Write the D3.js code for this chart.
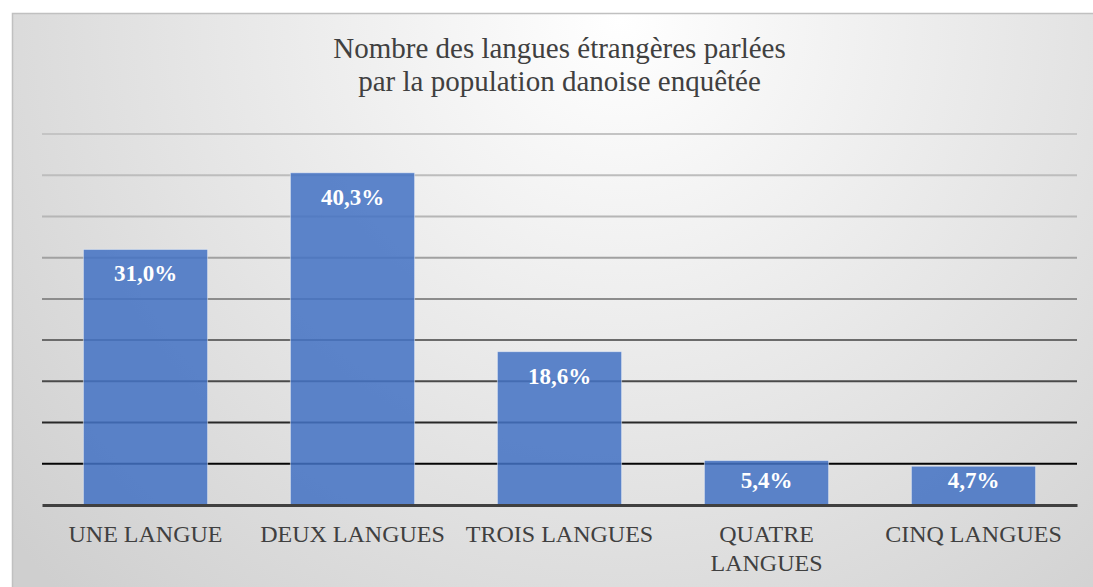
<!DOCTYPE html>
<html>
<head>
<meta charset="utf-8">
<script src="https://cdn.jsdelivr.net/npm/d3@7"></script>
<style>
  html, body { margin: 0; padding: 0; background: #ffffff; }
  svg { display: block; }
</style>
</head>
<body>
<script>
// ---- data ----
const titleLines = ["Nombre des langues étrangères parlées", "par la population danoise enquêtée"];
const categories = [["UNE LANGUE"], ["DEUX LANGUES"], ["TROIS LANGUES"], ["QUATRE", "LANGUES"], ["CINQ LANGUES"]];
const values = [31.0, 40.3, 18.6, 5.4, 4.7];
const valueLabels = ["31,0%", "40,3%", "18,6%", "5,4%", "4,7%"];
const yTicks = [0, 5, 10, 15, 20, 25, 30, 35, 40, 45];

// ---- layout ----
const W = 1093, H = 587;
const plot = { left: 42, right: 1077, top: 134, bottom: 505 };
const serif = "'Liberation Serif', 'Times New Roman', serif";

const svg = d3.select("body").append("svg").attr("width", W).attr("height", H);
const defs = svg.append("defs");
const bg = defs.append("radialGradient").attr("id", "bg")
  .attr("gradientUnits", "userSpaceOnUse")
  .attr("cx", 620).attr("cy", 20).attr("r", 800);
bg.append("stop").attr("offset", 0).attr("stop-color", "#ffffff");
bg.append("stop").attr("offset", 1).attr("stop-color", "#cfcfcf");

svg.append("rect").attr("x", 12.5).attr("y", 13.5).attr("width", W).attr("height", H)
  .attr("fill", "url(#bg)").attr("stroke", "#c0c0c0").attr("stroke-width", 1.5);

const x = d3.scaleBand().domain(d3.range(categories.length))
  .range([plot.left, plot.right]).paddingInner(0.4).paddingOuter(0.2);
const y = d3.scaleLinear().domain([0, 45]).range([plot.bottom, plot.top]);

// gridline colour: light grey at top, black near the bottom
const gridColor = d3.scaleLinear()
  .domain([45, 35, 25, 15, 5])
  .range(["#c4c4c4", "#b6b6b6", "#8c8c8c", "#4a4a4a", "#050505"])
  .clamp(true);

const grid = svg.append("g");
grid.selectAll("line").data(yTicks.filter(t => t > 0)).join("line")
  .attr("x1", plot.left).attr("x2", plot.right)
  .attr("y1", d => y(d)).attr("y2", d => y(d))
  .attr("stroke", d => gridColor(d)).attr("stroke-width", 2);

// bars
svg.append("g").selectAll("rect").data(values).join("rect")
  .attr("x", (d, i) => x(i)).attr("width", x.bandwidth())
  .attr("y", d => y(d)).attr("height", d => y(0) - y(d))
  .attr("fill", "#4472c4").attr("fill-opacity", 0.86)
  .attr("stroke", "rgba(255,255,255,0.45)").attr("stroke-width", 1);

// baseline axis
const xAxis = d3.axisBottom(x).tickSize(0).tickFormat("");
const ax = svg.append("g").attr("transform", `translate(0,${y(0)})`).call(xAxis);
ax.select(".domain").attr("stroke", "#404040").attr("stroke-width", 3);

// category labels
const catG = svg.append("g");
categories.forEach((lines, i) => {
  const t = catG.append("text")
    .attr("x", x(i) + x.bandwidth() / 2).attr("y", 542)
    .attr("text-anchor", "middle")
    .attr("font-family", serif).attr("font-size", 24).attr("fill", "#404040");
  lines.forEach((l, j) => t.append("tspan").attr("x", x(i) + x.bandwidth() / 2).attr("dy", j === 0 ? 0 : 29).text(l));
});

// value labels
svg.append("g").selectAll("text").data(values).join("text")
  .attr("x", (d, i) => x(i) + x.bandwidth() / 2)
  .attr("y", d => Math.min(y(d) + 32, y(0) - 17))
  .attr("text-anchor", "middle")
  .attr("font-family", serif).attr("font-weight", "bold").attr("font-size", 23)
  .attr("fill", "#ffffff")
  .text((d, i) => valueLabels[i]);

// title
const title = svg.append("text")
  .attr("x", (plot.left + plot.right) / 2).attr("y", 58)
  .attr("text-anchor", "middle")
  .attr("font-family", serif).attr("font-size", 29).attr("fill", "#404040");
titleLines.forEach((l, j) => title.append("tspan")
  .attr("x", (plot.left + plot.right) / 2).attr("dy", j === 0 ? 0 : 33).text(l));
</script>
</body>
</html>
